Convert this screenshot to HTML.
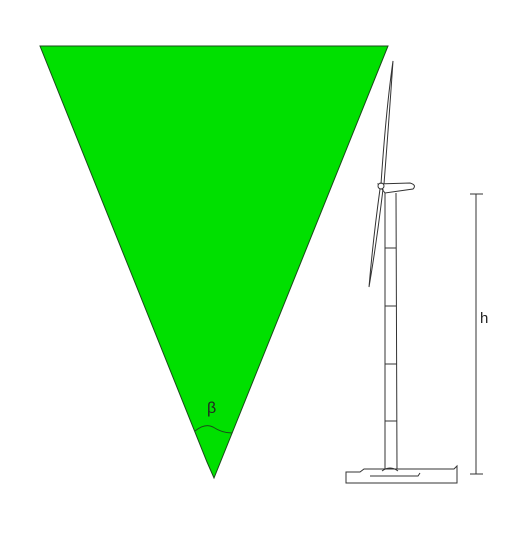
<!DOCTYPE html>
<html><head><meta charset="utf-8"><style>
html,body{margin:0;padding:0;background:#fff;}
svg{display:block;}
text{font-family:"Liberation Sans","DejaVu Sans",sans-serif;}
</style></head><body>
<svg width="512" height="546" viewBox="0 0 512 546">
  <polygon points="40,46 388,46 214,478 207,462" fill="#00e000" stroke="#1a4a1a" stroke-width="1"/>
  <path d="M195,431 Q205,423 213,427 Q222,433 232,433" fill="none" stroke="#1a4a1a" stroke-width="1"/>
  <text x="207" y="413" font-size="16" fill="#222">β</text>
  <g stroke="#333" stroke-width="1" fill="none">
    <path d="M385,193 L385,471 M396,193 L397,471"/>
    <path d="M385,248 H396 M385,306 H396 M385,364 H397 M385,421 H397"/>
    <path d="M378,184 L410,183 Q417,185 413,189 L385,193 Z" fill="#fff"/>
    <circle cx="381" cy="186" r="3" fill="#fff"/>
    <path d="M381,184 Q386,110 393,61 Q389,120 384,184"/>
    <path d="M380,189 Q373,240 369,287 Q377,240 383,189"/>
    <path d="M346,472 L360,472 L364,469 L454,469 L457,466 L457,483 L346,483 Z M370,476 L418,476 L420,473" fill="#fff"/>
    <path d="M382,471 Q390,465 398,471"/>
  </g>
  <g stroke="#333" stroke-width="1">
    <line x1="476" y1="194" x2="476" y2="474"/>
    <line x1="470" y1="194" x2="483" y2="194"/>
    <line x1="470" y1="474" x2="483" y2="474"/>
  </g>
  <text x="480" y="323" font-size="15" fill="#222">h</text>
</svg>
</body></html>
